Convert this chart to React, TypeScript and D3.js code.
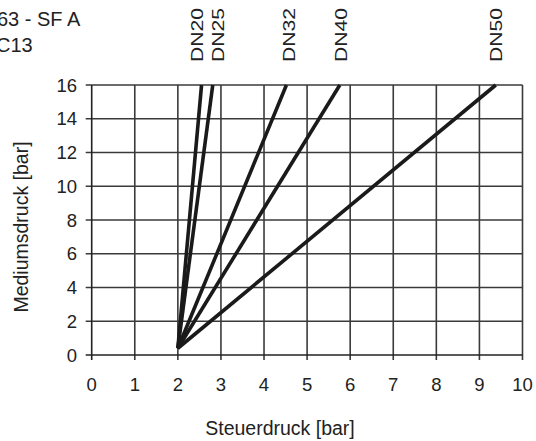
import React from "react";
import * as d3 from "d3";

const series = ["DN20", "DN25", "DN32", "DN40", "DN50"];
const startX = [2, 2, 2, 2, 2];
const startY = [0.4, 0.4, 0.4, 0.4, 0.4];
const endX = [2.55, 2.81, 4.52, 5.76, 9.38];
const endY = [16, 16, 16, 16, 16];
const labelX = [2.45, 2.95, 4.6, 5.8, 9.4];
const xTicks = [0, 1, 2, 3, 4, 5, 6, 7, 8, 9, 10];
const yTicks = [0, 2, 4, 6, 8, 10, 12, 14, 16];
const titleLines = ["63 - SF A", "C13"];

export default function App() {
  const W = 536, H = 441;
  const x = d3.scaleLinear().domain([0, 10]).range([91.7, 522.5]);
  const y = d3.scaleLinear().domain([0, 16]).range([355, 85]);
  const line = d3.line<[number, number]>().x(d => x(d[0])).y(d => y(d[1]));
  const font = "'Liberation Sans', Arial, Helvetica, sans-serif";
  return (
    <svg width={W} height={H} style={{ position: "absolute", left: 0, top: 0, background: "#fff" }} fontFamily={font}>
      {/* grid */}
      {xTicks.filter(t => t > 0).map(t => (
        <line key={"gx" + t} x1={x(t)} x2={x(t)} y1={y(16)} y2={y(0) + 5} stroke="#3a3a3a" strokeWidth={1.6} />
      ))}
      {yTicks.filter(t => t > 0).map(t => (
        <line key={"gy" + t} x1={x(0) - 6} x2={x(10)} y1={y(t)} y2={y(t)} stroke="#3a3a3a" strokeWidth={1.6} />
      ))}
      {/* axes */}
      <line x1={x(0)} x2={x(0)} y1={y(16)} y2={y(0) + 5} stroke="#222" strokeWidth={1.6} />
      <line x1={x(0) - 6} x2={x(10)} y1={y(0)} y2={y(0)} stroke="#222" strokeWidth={1.6} />
      {/* series */}
      {series.map((s, i) => (
        <path key={s} d={line([[startX[i], startY[i]], [endX[i], endY[i]]]) || ""} stroke="#1a1a1a" strokeWidth={3.6} fill="none" strokeLinecap="butt" />
      ))}
      {/* tick labels */}
      {xTicks.map(t => (
        <text key={"tx" + t} x={x(t)} y={391} textAnchor="middle" fontSize={18.5} fill="#222">{t}</text>
      ))}
      {yTicks.map(t => (
        <text key={"ty" + t} x={77} y={y(t) + 6.5} textAnchor="end" fontSize={18.5} fill="#222">{t}</text>
      ))}
      {/* axis titles */}
      <text x={280} y={435} textAnchor="middle" fontSize={19.5} fill="#222">Steuerdruck [bar]</text>
      <text transform={`translate(28,227) rotate(-90)`} textAnchor="middle" fontSize={19.5} fill="#222">Mediumsdruck [bar]</text>
      {/* series labels */}
      {series.map((s, i) => (
        <text key={"l" + s} transform={`translate(${x(labelX[i]) + 5.5},62) rotate(-90)`} fontSize={16} textLength={54} lengthAdjust="spacingAndGlyphs" fill="#222">{s}</text>
      ))}
      {/* title */}
      {titleLines.map((t, i) => (
        <text key={"t" + i} x={i === 0 ? -3 : -4} y={26 + i * 26} fontSize={20} fill="#222">{t}</text>
      ))}
    </svg>
  );
}
